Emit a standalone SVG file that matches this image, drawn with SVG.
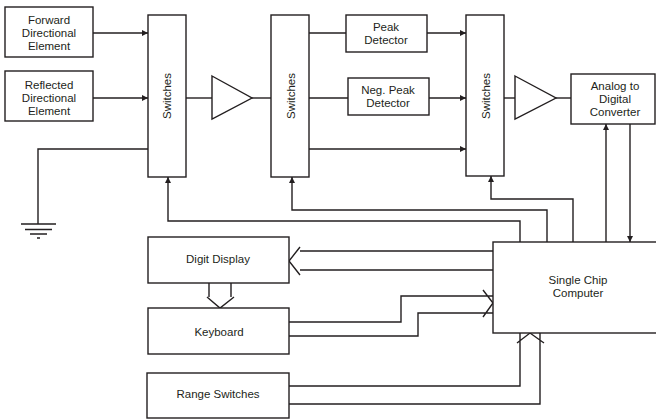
<svg xmlns="http://www.w3.org/2000/svg" width="656" height="419" viewBox="0 0 656 419">
<defs>
<style>
.b{fill:#fff;stroke:#231f20;stroke-width:1.4}
.l{fill:none;stroke:#231f20;stroke-width:1.4}
.a{fill:none;stroke:#231f20;stroke-width:1.4;marker-end:url(#ah)}
text{font-family:"Liberation Sans",Arial,sans-serif;font-size:11.5px;fill:#231f20;text-anchor:middle}
</style>
<marker id="ah" viewBox="0 0 10 10" refX="10" refY="5" markerWidth="6" markerHeight="6" markerUnits="userSpaceOnUse" orient="auto"><path d="M0,0L10,5L0,10z" fill="#231f20"/></marker>
</defs>
<rect width="656" height="419" fill="#fff"/>
<g id="connectors">
<path class="a" d="M93,33H148"/>
<path class="a" d="M93,98H148"/>
<path class="l" d="M186,98H212"/>
<path class="l" d="M252,98H271"/>
<path class="l" d="M309,33H346"/>
<path class="l" d="M309,98H348"/>
<path class="a" d="M427,33H466"/>
<path class="a" d="M429,98H466"/>
<path class="a" d="M309,149H466"/>
<path class="l" d="M504,98H515"/>
<path class="l" d="M556,98H571"/>
<path class="l" d="M148,149H38V224"/>
<path class="l" d="M21,224H56M25,229.5H52M30,234H47M37,238H40"/>
<path class="a" d="M520,242V221H168V177"/>
<path class="a" d="M547,242V210H292V177"/>
<path class="a" d="M573,242V199H491V176"/>
<path class="a" d="M606,242V124"/>
<path class="a" d="M630,124V242"/>
<path class="l" d="M493,251H300M493,270H300M300,247L289,261L300,275"/>
<path class="l" d="M209,283V297M231,283V297M207,297L220,308L234,297"/>
<path class="l" d="M289,322H401V296H493M289,336H418V313H493M483,290L493,303L483,317"/>
<path class="l" d="M289,386H520V333M289,404H540V333M517,343L530,333L544,343"/>
</g>
<g id="forward"><rect class="b" x="5" y="7" width="88" height="50"/><text x="49" y="24">Forward</text><text x="49" y="37">Directional</text><text x="49" y="50">Element</text></g>
<g id="reflected"><rect class="b" x="5" y="71" width="88" height="50"/><text x="49" y="89">Reflected</text><text x="49" y="102">Directional</text><text x="49" y="115">Element</text></g>
<g id="switches1"><rect class="b" x="148" y="15" width="38" height="162"/><text transform="translate(171,96) rotate(-90)">Switches</text></g>
<g id="amp1"><path class="b" d="M212,76L252,98L212,119z"/></g>
<g id="switches2"><rect class="b" x="271" y="15" width="38" height="162"/><text transform="translate(295,96) rotate(-90)">Switches</text></g>
<g id="peak"><rect class="b" x="346" y="15" width="81" height="37"/><text x="386" y="31">Peak</text><text x="386" y="44">Detector</text></g>
<g id="negpeak"><rect class="b" x="348" y="78" width="81" height="37"/><text x="388" y="94">Neg. Peak</text><text x="388" y="107">Detector</text></g>
<g id="switches3"><rect class="b" x="466" y="15" width="38" height="161"/><text transform="translate(490,96) rotate(-90)">Switches</text></g>
<g id="amp2"><path class="b" d="M515,76L556,98L515,119z"/></g>
<g id="adc"><rect class="b" x="571" y="74" width="84" height="50"/><text x="615" y="90">Analog to</text><text x="615" y="103">Digital</text><text x="615" y="116">Converter</text></g>
<g id="computer"><rect class="b" x="493" y="242" width="170" height="91"/><text x="578" y="284">Single Chip</text><text x="578" y="297">Computer</text></g>
<g id="display"><rect class="b" x="148" y="237" width="141" height="46"/><text x="218" y="263">Digit Display</text></g>
<g id="keyboard"><rect class="b" x="148" y="308" width="141" height="46"/><text x="219" y="336">Keyboard</text></g>
<g id="range"><rect class="b" x="147" y="373" width="142" height="45"/><text x="218" y="398">Range Switches</text></g>
</svg>
